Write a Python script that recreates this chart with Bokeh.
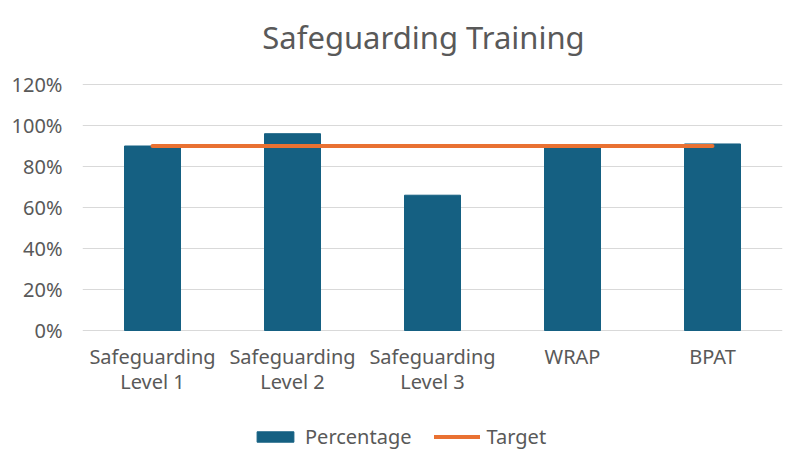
from bokeh.plotting import figure
from bokeh.models import Legend, LegendItem, NumeralTickFormatter, FixedTicker, Range1d
from bokeh.core.properties import value
from bokeh.embed import file_html
from bokeh.resources import INLINE

categories = ["Safeguarding\nLevel 1", "Safeguarding\nLevel 2", "Safeguarding\nLevel 3", "WRAP", "BPAT"]
percentage = [0.90, 0.96, 0.66, 0.90, 0.91]
target = [0.90, 0.90, 0.90, 0.90, 0.90]
y_ticks = [0, 0.2, 0.4, 0.6, 0.8, 1.0, 1.2]
title_text = "Safeguarding Training"

FONT = "Noto Sans"
GREY = "#595959"

# frame spans the full figure height; the value range 0..1.2 occupies the middle
p = figure(x_range=categories, y_range=Range1d(-0.5902, 1.6098),
           width=792, height=451,
           output_backend="svg", toolbar_location=None,
           min_border_left=82, min_border_right=10, min_border_top=0, min_border_bottom=0)
p.outline_line_color = None
p.x_range.range_padding = 0

bars = p.vbar(x=categories, top=percentage, width=0.4, color="#156082")
line = p.line(x=categories, y=target, line_width=4, color="#E97132", line_cap="round")

# category labels (two-line) under the baseline
p.text(x=categories, y=[-0.0585] * len(categories), text=categories,
       text_font=value(FONT), text_font_size=value("20px"), text_color=GREY,
       text_align="center", text_baseline="top", text_line_height=0.96)

# chart title
p.text(x=[categories[2]], y=[1.434], text=[title_text], x_offset=-9,
       text_font=value(FONT), text_font_size=value("31px"), text_color=GREY,
       text_align="center", text_baseline="middle")

p.xaxis.visible = False

p.yaxis.ticker = FixedTicker(ticks=y_ticks)
p.yaxis.formatter = NumeralTickFormatter(format="0%")
p.yaxis.axis_line_color = None
p.yaxis.major_tick_line_color = None
p.yaxis.minor_tick_line_color = None
p.yaxis.major_tick_out = 0
p.yaxis.major_tick_in = 0
p.yaxis.major_label_text_font = FONT
p.yaxis.major_label_text_font_size = "20px"
p.yaxis.major_label_text_color = GREY
p.yaxis.major_label_standoff = 20

p.xgrid.grid_line_color = None
p.ygrid.ticker = FixedTicker(ticks=y_ticks)
p.ygrid.grid_line_color = "#d9d9d9"
p.ygrid.grid_line_width = 1

legend = Legend(items=[LegendItem(label="Percentage", renderers=[bars]),
                       LegendItem(label="Target", renderers=[line])],
                orientation="horizontal", location=(170, 1),
                label_text_font=FONT, label_text_font_size="20px", label_text_color=GREY,
                glyph_width=46, glyph_height=13, label_standoff=7, spacing=22,
                border_line_color=None, background_fill_alpha=0, padding=2, margin=0)
p.add_layout(legend, "center")

open("out.html", "w").write(file_html(p, INLINE))
